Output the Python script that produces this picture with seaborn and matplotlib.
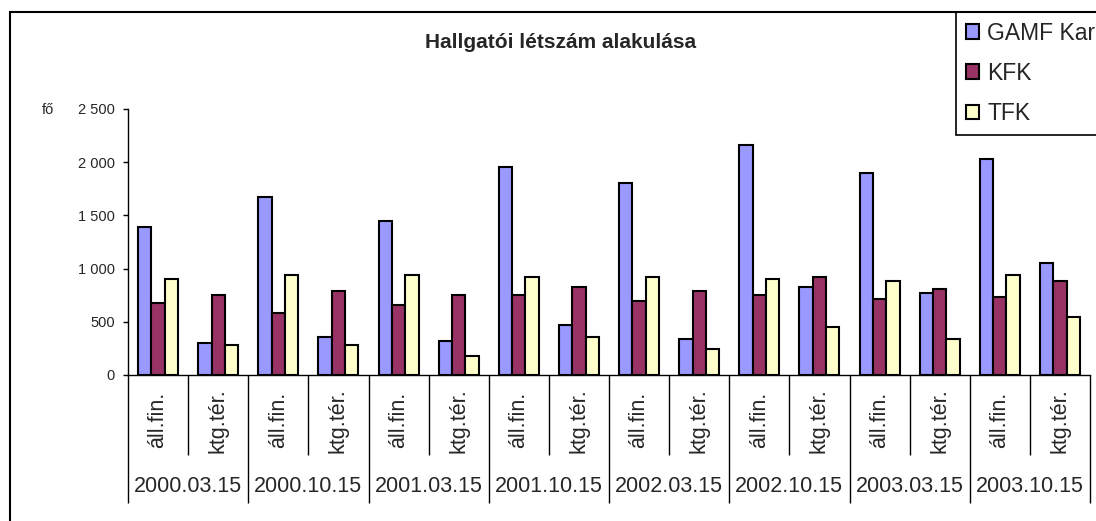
import pandas as pd
import matplotlib.pyplot as plt
import matplotlib.patches as mpatches
import seaborn as sns

# Hallgatói létszám (fő), két finanszírozási forma dátumonként
dates = ['2000.03.15', '2000.10.15', '2001.03.15', '2001.10.15',
         '2002.03.15', '2002.10.15', '2003.03.15', '2003.10.15']
forms = ['áll.fin.', 'ktg.tér.']
series = ['GAMF Kar', 'KFK', 'TFK']
colors = ['#9999FF', '#993366', '#FFFFCC']

gamf = [1390, 298, 1672, 357, 1450, 320, 1951, 470, 1805, 338, 2162, 824, 1898, 767, 2027, 1050]
kfk = [675, 750, 583, 787, 658, 752, 752, 830, 695, 787, 752, 921, 711, 805, 730, 880]
tfk = [900, 279, 938, 279, 937, 182, 921, 357, 921, 244, 899, 448, 880, 335, 937, 542]

cats = [d + ' ' + f for d in dates for f in forms]
rows = []
for name, vals in zip(series, [gamf, kfk, tfk]):
    for c, v in zip(cats, vals):
        rows.append({'cat': c, 'series': name, 'value': v})
df = pd.DataFrame(rows)

sns.set_style('white')
plt.rcParams['font.family'] = ['Liberation Sans', 'DejaVu Sans']

W, H = 1096, 521
fig = plt.figure(figsize=(W / 100, H / 100), dpi=100)
ax = fig.add_axes([128 / W, (H - 375) / H, 962 / W, 266 / H])

sns.barplot(data=df, x='cat', y='value', hue='series', order=cats,
            hue_order=series, palette=colors, saturation=1, width=2 / 3,
            edgecolor='black', linewidth=1.5, errorbar=None,
            legend=False, ax=ax)

ax.set_ylim(0, 2500)
ax.set_xlim(-0.5, len(cats) - 0.5)
ax.set_yticks(range(0, 2501, 500))
ax.set_yticklabels([f'{v:,}'.replace(',', ' ') for v in range(0, 2501, 500)], fontsize=10.5)
ax.tick_params(axis='y', direction='out', length=3.5, width=1, color='black', pad=6, left=True)
ax.set_xlabel('')
ax.set_ylabel('')

# multi-level category axis: long separators between dates, short ones between forms
ax.set_xticks([i * 2 - 0.5 for i in range(len(dates) + 1)])
ax.set_xticks([i * 2 + 0.5 for i in range(len(dates))], minor=True)
ax.set_xticklabels([])
ax.tick_params(axis='x', which='major', direction='out', length=92, width=1, color='black', bottom=True)
ax.tick_params(axis='x', which='minor', direction='out', length=57.6, width=1, color='black', bottom=True)

for i, c in enumerate(cats):
    ax.annotate(c.split(' ')[1], xy=(i, 0), xycoords=('data', 'axes fraction'),
                xytext=(0, -32.5), textcoords='offset points', rotation=90,
                ha='center', va='center', fontsize=15.5)
for j, d in enumerate(dates):
    ax.annotate(d, xy=(2 * j + 0.5, 0), xycoords=('data', 'axes fraction'),
                xytext=(0, -80), textcoords='offset points',
                ha='center', va='center', fontsize=15.5)

for s in ['top', 'right']:
    ax.spines[s].set_visible(False)
for s in ['left', 'bottom']:
    ax.spines[s].set_color('black')
    ax.spines[s].set_linewidth(1)

fig.text(561 / W, 1 - 43 / H, 'Hallgatói létszám alakulása', ha='center', va='center',
         fontsize=15, fontweight='bold')
fig.text(42 / W, 1 - 110 / H, 'fő', ha='left', va='center', fontsize=10.5)

# chart area border (only left and top visible)
fig.add_artist(mpatches.Rectangle((10 / W, -0.5), 2, 1.5 - 12 / H, transform=fig.transFigure,
                                  fill=False, edgecolor='black', linewidth=1.5))

handles = [mpatches.Patch(facecolor=c, edgecolor='black', linewidth=1.5) for c in colors]
leg = ax.legend(handles, series, loc='upper left', bbox_to_anchor=(956 / W, 1 - 12 / H),
                bbox_transform=fig.transFigure, borderaxespad=0, frameon=True,
                fancybox=False, edgecolor='black', fontsize=16.5, handlelength=0.6,
                handleheight=0.6, handletextpad=0.35, labelspacing=0.75, borderpad=0.42,
                framealpha=1)
leg.get_frame().set_linewidth(1.2)

fig.savefig('out.png', dpi=100)
